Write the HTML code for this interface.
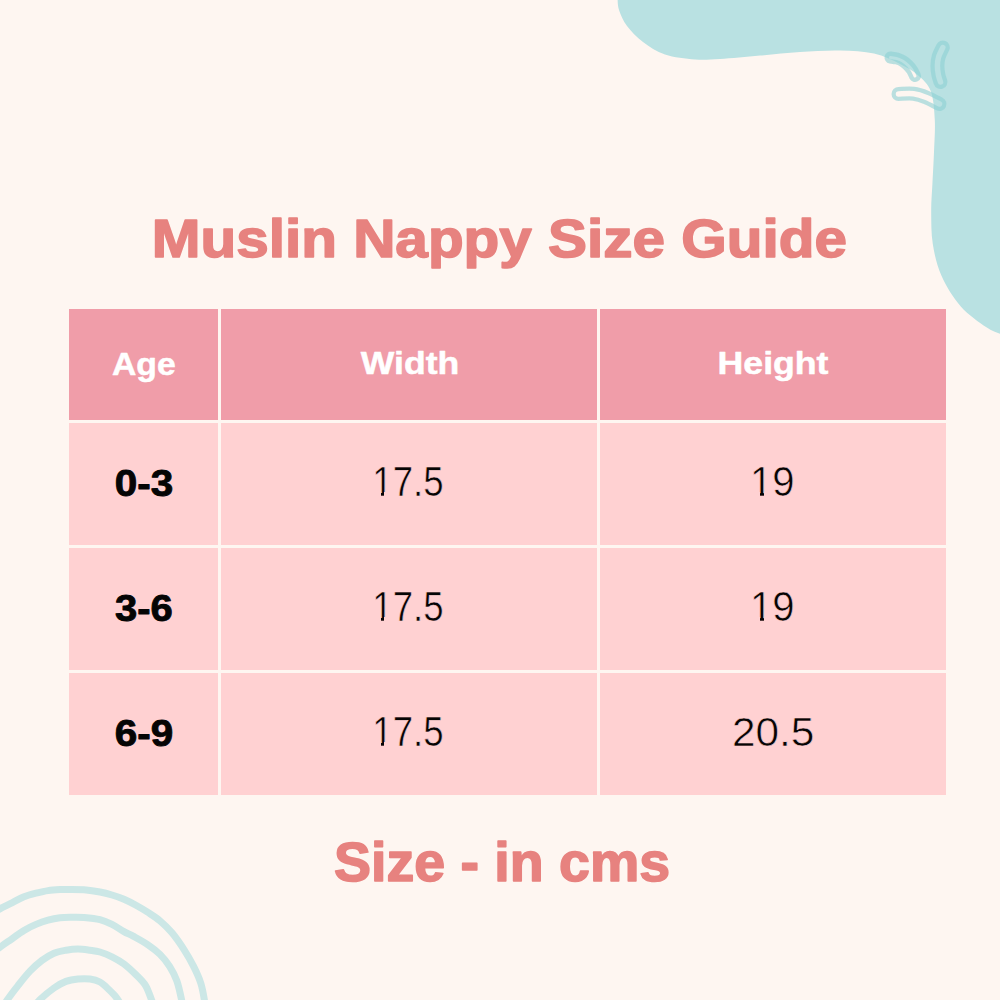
<!DOCTYPE html>
<html>
<head>
<meta charset="utf-8">
<style>
html,body{margin:0;padding:0;}
body{width:1000px;height:1000px;background:#FEF6F1;position:relative;overflow:hidden;font-family:"Liberation Sans",sans-serif;}
svg.bg{position:absolute;left:0;top:0;}
.t{position:absolute;white-space:nowrap;line-height:1;transform-origin:0 0;}
.title{color:#E7827F;font-weight:bold;font-size:55px;-webkit-text-stroke:1.2px #E7827F;}
.cell{position:absolute;}
.hd{background:#F09DA9;}
.bd{background:#FFD1D2;}
.h{color:#fff;font-weight:bold;font-size:32px;-webkit-text-stroke:0.8px #fff;}
.n{color:#050505;font-size:41px;}
.nb{color:#050505;font-weight:bold;font-size:41px;-webkit-text-stroke:0.8px #050505;}

</style>
</head>
<body>
<svg class="bg" width="1000" height="1000" viewBox="0 0 1000 1000">
  <path d="M617.5,-2.0 C617.8,0.0 617.4,5.3 619.0,10.0 C620.6,14.7 623.0,20.7 627.0,26.0 C631.0,31.3 636.7,37.2 643.0,42.0 C649.3,46.8 656.3,51.6 665.0,54.5 C673.7,57.4 685.8,58.8 695.0,59.5 C704.2,60.2 709.2,59.6 720.0,59.0 C730.8,58.4 746.7,56.8 760.0,55.6 C773.3,54.4 786.7,52.8 800.0,52.0 C813.3,51.2 827.7,50.3 840.0,50.6 C852.3,50.9 864.0,51.4 874.0,53.6 C884.0,55.8 892.7,60.4 900.0,64.0 C907.3,67.6 912.9,70.7 918.0,75.2 C923.1,79.7 928.0,83.7 930.8,91.2 C933.6,98.7 934.3,109.9 934.8,120.0 C935.3,130.1 934.4,141.3 934.0,152.0 C933.6,162.7 932.9,174.0 932.4,184.0 C931.9,194.0 931.1,202.0 931.2,212.0 C931.3,222.0 931.1,233.3 932.8,244.0 C934.5,254.7 936.9,265.6 941.6,276.0 C946.3,286.4 953.3,297.9 960.8,306.4 C968.3,314.9 979.5,322.5 986.4,327.2 C993.3,331.9 999.4,333.3 1002.0,334.5 L1002,-2 Z" fill="#B9E1E2"/>
  <defs>
    <mask id="m1" maskUnits="userSpaceOnUse" x="850" y="20" width="150" height="120">
      <rect x="850" y="20" width="150" height="120" fill="black"/>
      <g fill="none" stroke-linecap="round" stroke-linejoin="round">
        <path d="M890.5,57.5 C891.6,57.7 894.9,58.0 897.0,58.6 C899.1,59.2 901.2,60.1 903.0,61.2 C904.8,62.3 906.5,63.7 908.0,65.2 C909.5,66.7 910.8,68.2 912.0,70.0 C913.2,71.8 914.5,75.0 915.0,76.0" stroke="white" stroke-width="12"/>
        <path d="M890.5,57.5 C891.6,57.7 894.9,58.0 897.0,58.6 C899.1,59.2 901.2,60.1 903.0,61.2 C904.8,62.3 906.5,63.7 908.0,65.2 C909.5,66.7 910.8,68.2 912.0,70.0 C913.2,71.8 914.5,75.0 915.0,76.0" stroke="black" stroke-width="3"/>
        <path d="M942.8,47.5 C942.1,49.1 939.5,53.9 938.6,57.0 C937.7,60.1 937.4,63.0 937.4,66.0 C937.4,69.0 937.9,72.3 938.4,75.0 C938.9,77.7 940.1,80.8 940.5,82.0" stroke="white" stroke-width="14"/>
        <path d="M942.8,47.5 C942.1,49.1 939.5,53.9 938.6,57.0 C937.7,60.1 937.4,63.0 937.4,66.0 C937.4,69.0 937.9,72.3 938.4,75.0 C938.9,77.7 940.1,80.8 940.5,82.0" stroke="black" stroke-width="5.5"/>
        <path d="M898.5,94.0 C901.0,94.0 909.0,93.2 913.6,93.8 C918.2,94.4 922.1,95.8 926.4,97.5 C930.7,99.2 937.3,102.9 939.5,104.0" stroke="white" stroke-width="14"/>
        <path d="M898.5,94.0 C901.0,94.0 909.0,93.2 913.6,93.8 C918.2,94.4 922.1,95.8 926.4,97.5 C930.7,99.2 937.3,102.9 939.5,104.0" stroke="black" stroke-width="5.5"/>
      </g>
    </mask>
  </defs>
  <rect x="850" y="20" width="150" height="120" fill="#8CD0D3" fill-opacity="0.6" mask="url(#m1)"/>
  <g fill="none" stroke="#CCE7E6" stroke-width="7" stroke-linecap="round" stroke-linejoin="round">
    <path d="M-8.0,913.0 C-6.7,912.3 -3.3,910.5 0.0,908.8 C3.3,907.1 8.0,904.8 12.0,902.8 C16.0,900.8 20.0,898.4 24.0,896.8 C28.0,895.2 32.0,894.2 36.0,893.2 C40.0,892.2 44.0,891.2 48.0,890.6 C52.0,890.0 56.0,889.8 60.0,889.6 C64.0,889.4 68.0,889.4 72.0,889.4 C76.0,889.4 79.3,889.4 84.0,889.8 C88.7,890.2 95.3,891.1 100.0,892.0 C104.7,892.9 108.0,893.8 112.0,895.0 C116.0,896.2 120.0,897.5 124.0,899.2 C128.0,900.9 132.0,903.0 136.0,905.2 C140.0,907.4 144.0,909.8 148.0,912.4 C152.0,915.0 156.0,917.4 160.0,920.8 C164.0,924.2 168.0,928.0 172.0,932.8 C176.0,937.6 180.4,944.0 184.0,949.6 C187.6,955.2 190.8,960.8 193.6,966.4 C196.4,972.0 199.0,977.6 200.8,983.2 C202.6,988.8 203.6,995.5 204.4,1000.0 C205.2,1004.5 205.3,1008.3 205.5,1010.0"/>
    <path d="M-8.0,953.0 C-6.7,952.0 -3.3,949.6 0.0,947.2 C3.3,944.8 8.0,941.6 12.0,938.8 C16.0,936.0 20.0,932.8 24.0,930.4 C28.0,928.0 32.0,926.1 36.0,924.4 C40.0,922.7 44.0,921.3 48.0,920.2 C52.0,919.1 56.0,918.3 60.0,917.8 C64.0,917.3 68.0,917.3 72.0,917.2 C76.0,917.1 79.3,917.0 84.0,917.4 C88.7,917.8 95.3,918.4 100.0,919.6 C104.7,920.8 108.0,922.4 112.0,924.4 C116.0,926.4 120.4,929.6 124.0,931.6 C127.6,933.6 129.6,934.2 133.6,936.4 C137.6,938.6 143.6,941.8 148.0,944.8 C152.4,947.8 156.4,950.8 160.0,954.4 C163.6,958.0 166.8,962.0 169.6,966.4 C172.4,970.8 174.8,975.2 176.8,980.8 C178.8,986.4 180.6,995.1 181.6,1000.0 C182.6,1004.9 182.8,1008.3 183.0,1010.0"/>
    <path d="M1.0,1010.0 C2.0,1008.3 4.4,1004.1 7.2,1000.0 C10.0,995.9 14.2,990.4 18.0,985.6 C21.8,980.8 26.0,975.4 30.0,971.2 C34.0,967.0 38.0,963.4 42.0,960.4 C46.0,957.4 50.0,954.9 54.0,953.2 C58.0,951.5 62.0,950.9 66.0,950.2 C70.0,949.5 74.0,949.0 78.0,949.0 C82.0,949.0 86.3,949.7 90.0,950.2 C93.7,950.7 96.3,950.9 100.0,952.0 C103.7,953.1 108.0,954.8 112.0,956.8 C116.0,958.8 120.0,961.0 124.0,964.0 C128.0,967.0 132.4,971.2 136.0,974.8 C139.6,978.4 143.0,981.4 145.6,985.6 C148.2,989.8 150.0,995.9 151.6,1000.0 C153.2,1004.1 154.4,1008.3 155.0,1010.0"/>
    <path d="M32.0,1010.0 C33.3,1008.3 35.9,1003.7 39.6,1000.0 C43.3,996.3 49.6,991.1 54.0,988.0 C58.4,984.9 62.0,982.9 66.0,981.4 C70.0,979.9 74.0,979.4 78.0,979.0 C82.0,978.6 86.3,978.5 90.0,979.0 C93.7,979.5 97.1,980.5 100.0,982.0 C102.9,983.5 104.8,985.8 107.2,988.0 C109.6,990.2 112.6,993.2 114.4,995.2 C116.2,997.2 116.4,997.5 118.0,1000.0 C119.6,1002.5 123.0,1008.3 124.0,1010.0"/>
  </g>
</svg>
<div class="cell hd" style="left:69px;top:309px;width:149px;height:111px;"></div>
<div class="cell hd" style="left:221px;top:309px;width:376px;height:111px;"></div>
<div class="cell hd" style="left:600px;top:309px;width:346px;height:111px;"></div>
<div class="cell bd" style="left:69px;top:423px;width:149px;height:122px;"></div>
<div class="cell bd" style="left:221px;top:423px;width:376px;height:122px;"></div>
<div class="cell bd" style="left:600px;top:423px;width:346px;height:122px;"></div>
<div class="cell bd" style="left:69px;top:548px;width:149px;height:122px;"></div>
<div class="cell bd" style="left:221px;top:548px;width:376px;height:122px;"></div>
<div class="cell bd" style="left:600px;top:548px;width:346px;height:122px;"></div>
<div class="cell bd" style="left:69px;top:673px;width:149px;height:122px;"></div>
<div class="cell bd" style="left:221px;top:673px;width:376px;height:122px;"></div>
<div class="cell bd" style="left:600px;top:673px;width:346px;height:122px;"></div>
<svg class="fg" width="1000" height="1000" viewBox="0 0 1000 1000" style="position:absolute;left:0;top:0;font-family:'Liberation Sans',sans-serif;">
<text id="title" transform="translate(151.81,202.06) scale(1.0631,0.9918)" x="0" y="55" font-size="55" font-weight="bold" fill="#E7827F" stroke="#E7827F" stroke-width="1.6" stroke-linejoin="round">Muslin Nappy Size Guide</text>
<text id="hAge" transform="translate(111.94,342.42) scale(1.0554,1.0075)" x="0" y="32" font-size="32" font-weight="bold" fill="#FFFFFF" stroke="#FFFFFF" stroke-width="0.5" stroke-linejoin="round">Age</text>
<text id="hWidth" transform="translate(360.79,342.42) scale(1.1119,0.9838)" x="0" y="32" font-size="32" font-weight="bold" fill="#FFFFFF" stroke="#FFFFFF" stroke-width="0.5" stroke-linejoin="round">Width</text>
<text id="hHeight" transform="translate(717.56,342.39) scale(1.1146,0.9904)" x="0" y="32" font-size="32" font-weight="bold" fill="#FFFFFF" stroke="#FFFFFF" stroke-width="0.5" stroke-linejoin="round">Height</text>
<text id="a1" transform="translate(114.75,459.69) scale(0.9870,0.8791)" x="0" y="41" font-size="41" font-weight="bold" fill="#050505" stroke="#050505" stroke-width="1.0" stroke-linejoin="round">0-3</text>
<text id="w1" transform="translate(372.32,454.23) scale(0.8933,1.0188)" x="0" y="41" font-size="41" font-weight="normal" fill="#050505" stroke="#FFD1D2" stroke-width="0.6" stroke-linejoin="round">17.5</text>
<text id="g1" transform="translate(750.07,452.52) scale(0.9765,1.0592)" x="0" y="41" font-size="41" font-weight="normal" fill="#050505" stroke="#FFD1D2" stroke-width="0.6" stroke-linejoin="round">19</text>
<text id="a2" transform="translate(115.02,584.69) scale(0.9739,0.8791)" x="0" y="41" font-size="41" font-weight="bold" fill="#050505" stroke="#050505" stroke-width="1.0" stroke-linejoin="round">3-6</text>
<text id="w2" transform="translate(372.32,579.23) scale(0.8933,1.0188)" x="0" y="41" font-size="41" font-weight="normal" fill="#050505" stroke="#FFD1D2" stroke-width="0.6" stroke-linejoin="round">17.5</text>
<text id="g2" transform="translate(750.07,577.52) scale(0.9765,1.0592)" x="0" y="41" font-size="41" font-weight="normal" fill="#050505" stroke="#FFD1D2" stroke-width="0.6" stroke-linejoin="round">19</text>
<text id="a3" transform="translate(114.75,709.69) scale(0.9870,0.8791)" x="0" y="41" font-size="41" font-weight="bold" fill="#050505" stroke="#050505" stroke-width="1.0" stroke-linejoin="round">6-9</text>
<text id="w3" transform="translate(372.32,704.23) scale(0.8933,1.0188)" x="0" y="41" font-size="41" font-weight="normal" fill="#050505" stroke="#FFD1D2" stroke-width="0.6" stroke-linejoin="round">17.5</text>
<text id="g3" transform="translate(731.93,705.19) scale(1.0330,1.0053)" x="0" y="41" font-size="41" font-weight="normal" fill="#050505" stroke="#FFD1D2" stroke-width="0.6" stroke-linejoin="round">20.5</text>
<text id="foot" transform="translate(333.99,825.92) scale(1.0091,1.0006)" x="0" y="55" font-size="55" font-weight="bold" fill="#E7827F" stroke="#E7827F" stroke-width="1.6" stroke-linejoin="round">Size - in cms</text>
<rect x="374.0" y="492.0" width="7.0" height="4.0" fill="#FFD1D2" shape-rendering="crispEdges"/>
<rect x="384.0" y="492.0" width="8.0" height="4.0" fill="#FFD1D2" shape-rendering="crispEdges"/>
<rect x="374.0" y="617.0" width="7.0" height="4.0" fill="#FFD1D2" shape-rendering="crispEdges"/>
<rect x="384.0" y="617.0" width="8.0" height="4.0" fill="#FFD1D2" shape-rendering="crispEdges"/>
<rect x="374.0" y="742.0" width="7.0" height="4.0" fill="#FFD1D2" shape-rendering="crispEdges"/>
<rect x="384.0" y="742.0" width="8.0" height="4.0" fill="#FFD1D2" shape-rendering="crispEdges"/>
<rect x="752.0" y="492.0" width="8.0" height="4.0" fill="#FFD1D2" shape-rendering="crispEdges"/>
<rect x="764.0" y="492.0" width="7.0" height="4.0" fill="#FFD1D2" shape-rendering="crispEdges"/>
<rect x="752.0" y="617.0" width="8.0" height="4.0" fill="#FFD1D2" shape-rendering="crispEdges"/>
<rect x="764.0" y="617.0" width="7.0" height="4.0" fill="#FFD1D2" shape-rendering="crispEdges"/>
</svg>
</body>
</html>
